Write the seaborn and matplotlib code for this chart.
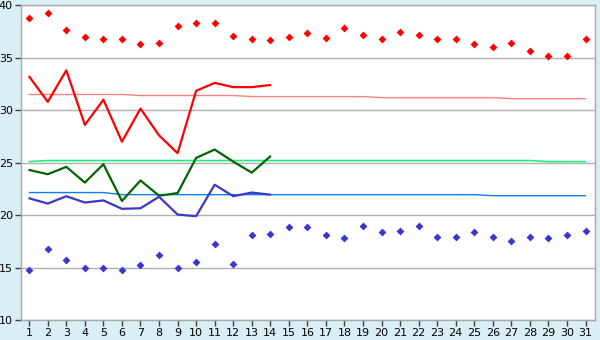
import numpy as np
import pandas as pd
import matplotlib
matplotlib.use("Agg")
import matplotlib.pyplot as plt
import seaborn as sns

days = list(range(1, 32))

record_max = [38.8, 39.3, 37.6, 37.0, 36.8, 36.8, 36.3, 36.4, 38.0, 38.3,
              38.3, 37.1, 36.75, 36.65, 37.0, 37.4, 36.85, 37.8, 37.2, 36.75,
              37.5, 37.2, 36.75, 36.75, 36.3, 36.0, 36.45, 35.6, 35.2, 35.2, 36.75]
record_min = [14.8, 16.8, 15.75, 15.0, 15.0, 14.8, 15.2, 16.2, 15.0, 15.55,
              17.2, 15.35, 18.1, 18.2, 18.9, 18.9, 18.1, 17.85, 19.0, 18.4,
              18.5, 19.0, 17.9, 17.9, 18.4, 17.9, 17.55, 17.9, 17.85, 18.1, 18.5]

obs_days = list(range(1, 15))
obs_max = [33.2, 30.8, 33.8, 28.6, 31.0, 27.0, 30.15, 27.6, 25.9, 31.85,
           32.6, 32.2, 32.2, 32.4]
obs_mean = [24.3, 23.9, 24.6, 23.1, 24.85, 21.35, 23.3, 21.85, 22.1, 25.45,
            26.25, 25.1, 24.05, 25.6]
obs_min = [21.6, 21.1, 21.8, 21.2, 21.4, 20.6, 20.65, 21.75, 20.05, 19.9,
           22.9, 21.8, 22.15, 21.95]

normal_max = [31.5] * 6 + [31.4] * 6 + [31.3] * 7 + [31.2] * 7 + [31.1] * 5
normal_mean = [25.1] + [25.2] * 27 + [25.1] * 3
normal_min = [22.15] * 5 + [21.95] * 20 + [21.85] * 6

yticks = [10, 15, 20, 25, 30, 35, 40]

sns.set_theme(style="white")
plt.rcParams['font.family'] = ['DejaVu Sans']

bg = "#DAEEF5"
fig = plt.figure(figsize=(6, 3.4), dpi=100, facecolor=bg)
ax = fig.add_axes([0.0345, 0.0588, 0.9575, 0.9256])
ax.set_facecolor("white")

df_rec = pd.DataFrame({"day": days, "rmax": record_max, "rmin": record_min,
                       "nmax": normal_max, "nmean": normal_mean, "nmin": normal_min})
df_obs = pd.DataFrame({"day": obs_days, "max": obs_max, "mean": obs_mean, "min": obs_min})

for y in yticks:
    ax.axhline(y, color="#B0B0B0", lw=1.0, zorder=0)

sns.lineplot(data=df_rec, x="day", y="nmax", color="#FF8080", lw=1.0, ax=ax)
sns.lineplot(data=df_rec, x="day", y="nmean", color="#20F080", lw=1.2, ax=ax)
sns.lineplot(data=df_rec, x="day", y="nmin", color="#0A80F0", lw=1.0, ax=ax)

sns.lineplot(data=df_obs, x="day", y="max", color="#FF0000", lw=1.6, ax=ax)
sns.lineplot(data=df_obs, x="day", y="mean", color="#006600", lw=1.6, ax=ax)
sns.lineplot(data=df_obs, x="day", y="min", color="#3838CC", lw=1.6, ax=ax)

sns.scatterplot(data=df_rec, x="day", y="rmax", color="#FF0000", marker="D",
                s=16, linewidth=0, ax=ax, zorder=5)
sns.scatterplot(data=df_rec, x="day", y="rmin", color="#3838CC", marker="D",
                s=16, linewidth=0, ax=ax, zorder=5)

ax.set_xlim(0.54, 31.52)
ax.set_ylim(10, 40)
ax.set_xticks(days)
ax.set_xticklabels([str(d) for d in days])
ax.set_yticks(yticks)
ax.set_yticklabels([str(y) for y in yticks])
ax.set_xlabel("")
ax.set_ylabel("")
for s in ax.spines.values():
    s.set_color("#A8A8A8")
    s.set_linewidth(1.0)
ax.tick_params(axis="both", which="both", length=4, width=1, color="#404040",
               labelsize=8, labelcolor="black", pad=1.5, direction="out")
ax.tick_params(axis="x", bottom=True)
ax.tick_params(axis="y", left=True)

fig.savefig("out.png", dpi=100, facecolor=bg)
